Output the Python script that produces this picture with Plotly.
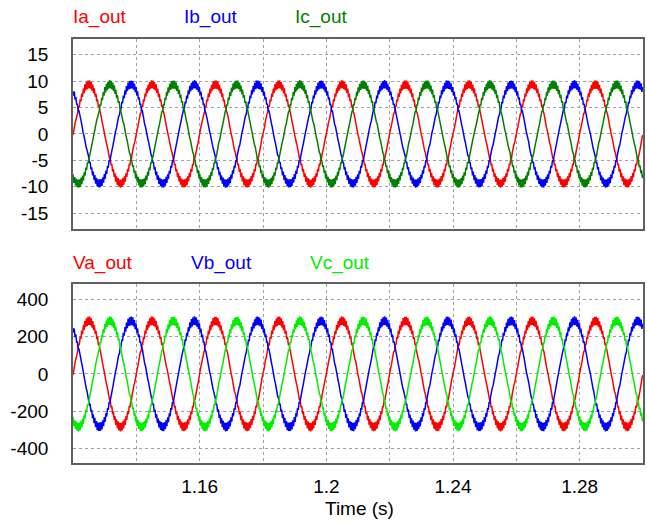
import numpy as np
import plotly.graph_objects as go
from plotly.subplots import make_subplots

# ---- data ----
time_window = [1.12, 1.30]          # s
fundamental_hz = 50.0
switching_hz = 2000.0
current_names = ["Ia_out", "Ib_out", "Ic_out"]
current_amp = [9.4, 9.4, 9.4]
current_phase_deg = [0.0, 120.0, -120.0]
current_ripple = 0.8
current_colors = ["#ff0000", "#0000ff", "#008000"]

voltage_names = ["Va_out", "Vb_out", "Vc_out"]
voltage_amp = [285.0, 285.0, 285.0]
voltage_phase_deg = [0.0, 120.0, -120.0]
voltage_ripple = 24.0
voltage_colors = ["#ff0000", "#0000ff", "#00ee00"]

x_gridvals = [1.14, 1.16, 1.18, 1.20, 1.22, 1.24, 1.26, 1.28]
x_ticktext = ["", "1.16", "", "1.2", "", "1.24", "", "1.28"]
i_ticks = [-15, -10, -5, 0, 5, 10, 15]
i_ticktext = ["-15", "-10", "-5", "0", "5", "10", "15"]
v_ticks = [-400, -200, 0, 200, 400]
v_ticktext = ["-400", "-200", "0", "200", "400"]

t = np.linspace(time_window[0], time_window[1], 6001)
theta = 2 * np.pi * fundamental_hz * (t - time_window[0])
carrier_phase = (t - time_window[0]) * switching_hz
tri = 2 * np.abs(2 * (carrier_phase - np.floor(carrier_phase + 0.5))) - 1


def wave(amp, ph, rip, k):
    s = np.sin(theta + np.deg2rad(ph))
    r = rip * (0.25 + 0.75 * s * s) * np.roll(tri, 5 * k)
    return amp * s + r


FONT = "Liberation Sans, Arial, sans-serif"
FS = 19

fig = make_subplots(rows=2, cols=1, vertical_spacing=0.0)
for k in range(3):
    fig.add_trace(go.Scatter(x=t, y=wave(current_amp[k], current_phase_deg[k], current_ripple, k),
                             mode="lines", line=dict(color=current_colors[k], width=1.5),
                             name=current_names[k], showlegend=False), row=1, col=1)
for k in range(3):
    fig.add_trace(go.Scatter(x=t, y=wave(voltage_amp[k], voltage_phase_deg[k], voltage_ripple, k),
                             mode="lines", line=dict(color=voltage_colors[k], width=1.5),
                             name=voltage_names[k], showlegend=False), row=2, col=1)

axis_common = dict(showline=True, mirror=True, linecolor="#606060", linewidth=1.6,
                   showgrid=True, gridcolor="#a0a0a0", griddash="dot", gridwidth=1,
                   zeroline=False, ticks="", automargin=False,
                   tickfont=dict(family=FONT, size=FS, color="#000"))

fig.update_xaxes(range=time_window, tickvals=x_gridvals, ticktext=x_ticktext, **axis_common)
fig.update_xaxes(showticklabels=False, row=1, col=1)
fig.update_xaxes(ticklabelstandoff=5, row=2, col=1)
fig.update_yaxes(**axis_common)
fig.update_yaxes(range=[-18, 18], tickvals=i_ticks, ticktext=i_ticktext, ticklabelstandoff=19, row=1, col=1)
fig.update_yaxes(range=[-478, 482], tickvals=v_ticks, ticktext=v_ticktext, ticklabelstandoff=19, row=2, col=1)

fig.update_layout(
    width=647, height=524,
    margin=dict(l=73, r=4, t=39, b=61, autoexpand=False),
    paper_bgcolor="white", plot_bgcolor="white",
    font=dict(family=FONT, size=FS, color="#000"),
    yaxis=dict(domain=[0.552, 1.0]),
    yaxis2=dict(domain=[0.0, 0.422]),
)

# series labels (pixel positions converted to paper coords)
PW, PH = 570.0, 424.0
label_x_top = [73, 184, 295]
label_x_bot = [73, 191, 310]
for k in range(3):
    fig.add_annotation(text=current_names[k], xref="paper", yref="paper",
                       x=(label_x_top[k] - 73) / PW, y=(463 - 17) / PH,
                       xanchor="left", yanchor="middle", showarrow=False, xshift=-2,
                       font=dict(family=FONT, size=FS, color=current_colors[k]))
    fig.add_annotation(text=voltage_names[k], xref="paper", yref="paper",
                       x=(label_x_bot[k] - 73) / PW, y=(463 - 263) / PH,
                       xanchor="left", yanchor="middle", showarrow=False, xshift=-2,
                       font=dict(family=FONT, size=FS, color=voltage_colors[k]))

fig.add_annotation(text="Time (s)", xref="paper", yref="paper",
                   x=(359 - 73) / PW, y=(463 - 509) / PH,
                   xanchor="center", yanchor="middle", showarrow=False,
                   font=dict(family=FONT, size=FS, color="#000"))

fig.write_html(
    "out.html",
    config={"responsive": False, "displayModeBar": False},
    post_script="document.body.style.margin='0px';document.body.style.overflow='hidden';",
)
